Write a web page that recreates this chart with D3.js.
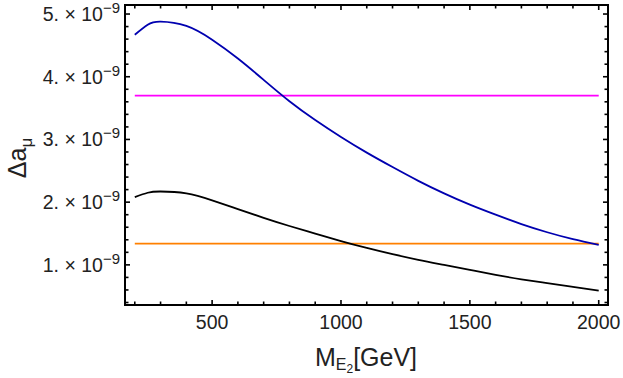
<!DOCTYPE html>
<html>
<head>
<meta charset="utf-8">
<script src="https://cdn.jsdelivr.net/npm/d3@7"></script>
<style>
	body { margin: 0; background: #fff; }
	text { font-family: "Liberation Sans", Arial, sans-serif; fill: #222; }
</style>
</head>
<body>
<div id="chart"></div>
<script>
// masses in GeV, Delta a_mu in units of 1e-9
const mass = [200, 250, 300, 400, 500, 600, 700, 800, 900, 1000, 1100, 1200, 1300, 1400, 1500, 1600, 1700, 1800, 1900, 2000];
const blueCurve = [4.67, 4.83, 4.88, 4.81, 4.59, 4.29, 3.95, 3.61, 3.31, 3.04, 2.79, 2.56, 2.34, 2.14, 1.96, 1.80, 1.65, 1.52, 1.41, 1.32];
const blackCurve = [2.08, 2.15, 2.17, 2.14, 2.03, 1.89, 1.75, 1.62, 1.50, 1.38, 1.27, 1.17, 1.08, 1.00, 0.92, 0.84, 0.77, 0.71, 0.65, 0.59];
const magentaLevel = 3.70;
const orangeLevel = 1.34;
const xTicks = [500, 1000, 1500, 2000];
const yTicks = [1, 2, 3, 4, 5];

const width = 623, height = 378;
const margin = {left: 125, right: 15, top: 5, bottom: 73};

const svg = d3.select('#chart').append('svg')
	.attr('width', width)
	.attr('height', height);

const x = d3.scaleLinear()
	.domain([162, 2036])
	.range([margin.left, width - margin.right]);
const y = d3.scaleLinear()
	.domain([0.36, 5.144])
	.range([height - margin.bottom, margin.top]);

const x0 = x.range()[0], x1 = x.range()[1];
const y0 = y.range()[0], y1 = y.range()[1];

const plot = svg.append('g');

const line = d3.line()
	.x(d => x(d[0]))
	.y(d => y(d[1]))
	.curve(d3.curveNatural);

plot.append('line')
	.attr('x1', x(200)).attr('x2', x(2000))
	.attr('y1', y(magentaLevel)).attr('y2', y(magentaLevel))
	.attr('stroke', '#ff00ff').attr('stroke-width', 1.8);

plot.append('line')
	.attr('x1', x(200)).attr('x2', x(2000))
	.attr('y1', y(orangeLevel)).attr('y2', y(orangeLevel))
	.attr('stroke', '#ff8000').attr('stroke-width', 1.8);

plot.append('path')
	.datum(mass.map((m, i) => [m, blackCurve[i]]))
	.attr('d', line)
	.attr('fill', 'none')
	.attr('stroke', '#000')
	.attr('stroke-width', 1.8);

plot.append('path')
	.datum(mass.map((m, i) => [m, blueCurve[i]]))
	.attr('d', line)
	.attr('fill', 'none')
	.attr('stroke', '#0000b0')
	.attr('stroke-width', 1.8);

// frame ticks (inward, mirrored on top/right)
const ticks = svg.append('g').attr('stroke', '#000').attr('stroke-width', 1.6);
const xMinor = d3.range(200, 2001, 100);
xMinor.forEach(v => {
	const len = xTicks.includes(v) ? 5 : 3.5;
	ticks.append('line').attr('x1', x(v)).attr('x2', x(v)).attr('y1', y0).attr('y2', y0 - len);
	ticks.append('line').attr('x1', x(v)).attr('x2', x(v)).attr('y1', y1).attr('y2', y1 + len);
});
const yMinor = d3.range(4, 51, 2).map(v => v / 10);
yMinor.forEach(v => {
	const len = yTicks.includes(v) ? 5 : 3.5;
	ticks.append('line').attr('y1', y(v)).attr('y2', y(v)).attr('x1', x0).attr('x2', x0 + len);
	ticks.append('line').attr('y1', y(v)).attr('y2', y(v)).attr('x1', x1).attr('x2', x1 - len);
});

svg.append('rect')
	.attr('x', x0).attr('y', y1)
	.attr('width', x1 - x0).attr('height', y0 - y1)
	.attr('fill', 'none')
	.attr('stroke', '#000')
	.attr('stroke-width', 2);

// tick labels
svg.append('g').selectAll('text')
	.data(xTicks)
	.join('text')
	.attr('x', d => x(d))
	.attr('y', y0 + 24)
	.attr('text-anchor', 'middle')
	.attr('font-size', 19.5)
	.text(d => d);

const yLab = svg.append('g').selectAll('text')
	.data(yTicks)
	.join('text')
	.attr('x', x0 - 5)
	.attr('y', d => y(d) + 7)
	.attr('text-anchor', 'end')
	.attr('font-size', 19.5);
yLab.append('tspan').text(d => d + '. \u00d7 10');
yLab.append('tspan').attr('dy', -8).attr('font-size', 15).text('\u22129');

// axis titles
const xt = svg.append('text')
	.attr('x', 366)
	.attr('y', 366)
	.attr('text-anchor', 'middle')
	.attr('font-size', 25);
xt.append('tspan').text('M');
xt.append('tspan').attr('font-size', 16).attr('dy', 4).text('E');
xt.append('tspan').attr('font-size', 12).attr('dy', 3).text('2');
xt.append('tspan').attr('dy', -7).text('[GeV]');

const yt = svg.append('text')
	.attr('transform', 'translate(26,158) rotate(-90)')
	.attr('text-anchor', 'middle')
	.attr('font-size', 25);
yt.append('tspan').text('\u0394a');
yt.append('tspan').attr('font-size', 17).attr('dy', 6).text('\u03bc');
</script>
</body>
</html>
